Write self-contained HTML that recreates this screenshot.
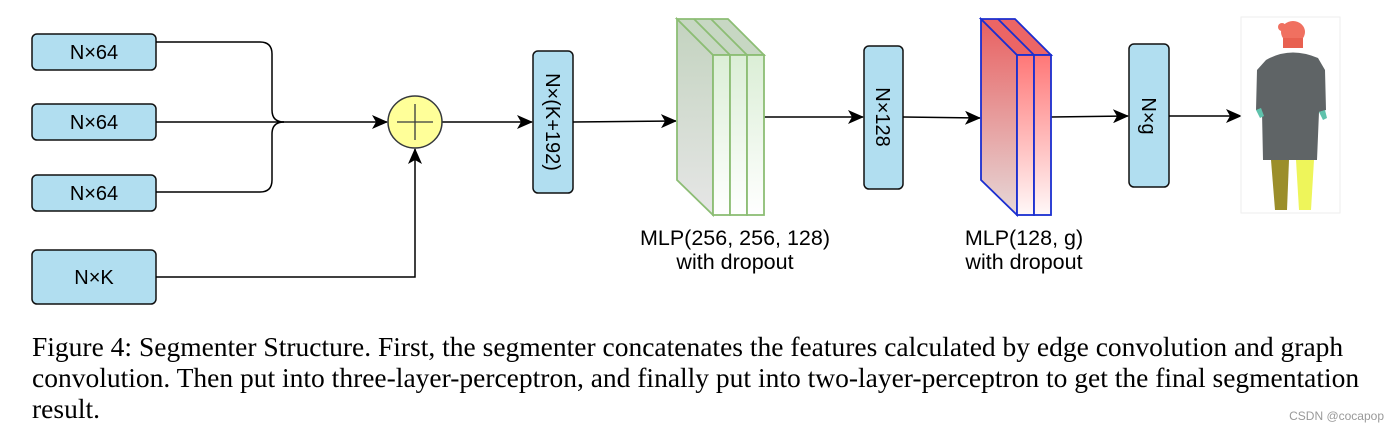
<!DOCTYPE html>
<html><head><style>
body{margin:0;background:#fff;width:1398px;height:434px;overflow:hidden;position:relative}
svg{position:absolute;left:0;top:0}
.cap{position:absolute;left:32px;top:331px;width:1380px;white-space:nowrap;font-family:"Liberation Serif",serif;font-size:27.5px;line-height:31px;color:#000}
.wm{position:absolute;right:14px;top:409px;font-family:"Liberation Sans",sans-serif;font-size:12px;color:#999}
</style></head><body>
<svg width="1398" height="434" viewBox="0 0 1398 434" font-family="Liberation Sans, sans-serif">
<defs>
<marker id="a" markerWidth="16" markerHeight="14" refX="15" refY="7" orient="auto" markerUnits="userSpaceOnUse"><path d="M0,0 L16,7 L0,14 L4,7 Z" fill="#000"/></marker>
<linearGradient id="g1" x1="0" y1="0" x2="0" y2="1"><stop offset="0" stop-color="#c3d3bf"/><stop offset="1" stop-color="#e6e6e6"/></linearGradient>
<linearGradient id="g2" x1="0" y1="0" x2="0" y2="1"><stop offset="0" stop-color="#dbeed6"/><stop offset="1" stop-color="#ffffff"/></linearGradient>
<linearGradient id="r1" x1="0" y1="0" x2="0" y2="1"><stop offset="0" stop-color="#e86060"/><stop offset="1" stop-color="#e6d8d8"/></linearGradient>
<linearGradient id="r2" x1="0" y1="0" x2="0" y2="1"><stop offset="0" stop-color="#ff7777"/><stop offset="1" stop-color="#fff8f8"/></linearGradient>
</defs>
<g fill="#b1def0" stroke="#111" stroke-width="1.5">
<rect x="32" y="34" width="124" height="36" rx="5"/>
<rect x="32" y="104" width="124" height="36" rx="5"/>
<rect x="32" y="175" width="124" height="36" rx="5"/>
<rect x="32" y="250" width="124" height="54" rx="5"/>
<rect x="533" y="51" width="40" height="142" rx="5"/>
<rect x="864" y="46" width="39" height="143" rx="5"/>
<rect x="1129" y="44" width="40" height="143" rx="5"/>
</g>
<g font-size="20" text-anchor="middle" fill="#000">
<text x="94" y="59">N×64</text>
<text x="94" y="129">N×64</text>
<text x="94" y="200">N×64</text>
<text x="94" y="284">N×K</text>
<text transform="translate(546,122) rotate(90)">N×(K+192)</text>
<text transform="translate(876,117) rotate(90)">N×128</text>
<text transform="translate(1142,116) rotate(90)">N×g</text>
</g>
<g font-size="21.5" text-anchor="middle" fill="#000">
<text x="735" y="245">MLP(256, 256, 128)</text>
<text x="735" y="269">with dropout</text>
<text x="1024" y="245">MLP(128, g)</text>
<text x="1024" y="269">with dropout</text>
</g>
<g fill="none" stroke="#000" stroke-width="1.5">
<path d="M156,42 H260 Q272,42 272,54 V110 Q272,122 284,122"/>
<path d="M156,192 H260 Q272,192 272,180 V134 Q272,122 284,122"/>
<path d="M156,122 H387" marker-end="url(#a)"/>
<path d="M156,277 H415 V149" marker-end="url(#a)"/>
<path d="M442,122 H532" marker-end="url(#a)"/>
<path d="M573,122 L676,121" marker-end="url(#a)"/>
<path d="M764,117 L863,117" marker-end="url(#a)"/>
<path d="M903,117 L980,118" marker-end="url(#a)"/>
<path d="M1051,117 L1128,116" marker-end="url(#a)"/>
<path d="M1169,116 L1241,116" marker-end="url(#a)"/>
</g>
<ellipse cx="415" cy="122" rx="27" ry="26" fill="#ffff99" stroke="#36393d" stroke-width="1.5"/>
<path d="M397,122 H433 M415,104 V140" stroke="#36393d" stroke-width="1.3"/>
<g stroke="#8cbd74" stroke-width="1.8">
<polygon points="677,19 713,55 713,215 677,180" fill="url(#g1)"/>
<polygon points="677,19 728,19 764,55 713,55" fill="#c7d7c3"/>
<path d="M694,19 L730,55 M711,19 L747,55" fill="none"/>
<rect x="713" y="55" width="17" height="160" fill="url(#g2)"/>
<rect x="730" y="55" width="17" height="160" fill="url(#g2)"/>
<rect x="747" y="55" width="17" height="160" fill="url(#g2)"/>
</g>
<g stroke="#1a2ed0" stroke-width="1.8">
<polygon points="981,19 1017,55 1017,215 981,180" fill="url(#r1)"/>
<polygon points="981,19 1015,19 1051,55 1017,55" fill="#ec6565"/>
<path d="M998,19 L1034,55" fill="none"/>
<rect x="1017" y="55" width="17" height="160" fill="url(#r2)"/>
<rect x="1034" y="55" width="17" height="160" fill="url(#r2)"/>
</g>
<rect x="1241" y="17" width="99" height="196" fill="#fff" stroke="#eee"/>
<ellipse cx="1293" cy="32" rx="12" ry="11" fill="#f07060"/>
<circle cx="1282" cy="27" r="4" fill="#f07060"/>
<rect x="1283" y="38" width="20" height="10" fill="#e86050"/>
<path d="M1266,60 Q1290,46 1318,58 L1325,70 L1326,110 L1319,112 L1317,160 L1263,160 L1262,112 L1256,110 L1257,70 Z" fill="#5f6466"/>
<path d="M1256,110 l4,8 l4,-2 l-3,-8 Z M1319,112 l4,8 l4,-2 l-2,-8 Z" fill="#5fc2ac"/>
<path d="M1271,160 h18 l-2,50 h-12 Z" fill="#9b8e2a"/>
<path d="M1296,160 h18 l-3,50 h-12 Z" fill="#eef55a"/>
</svg>
<div class="cap">Figure 4: Segmenter Structure. First, the segmenter concatenates the features calculated by edge convolution and graph<br>convolution. Then put into three-layer-perceptron, and finally put into two-layer-perceptron to get the final segmentation<br>result.</div>
<div class="wm">CSDN @cocapop</div>
</body></html>
